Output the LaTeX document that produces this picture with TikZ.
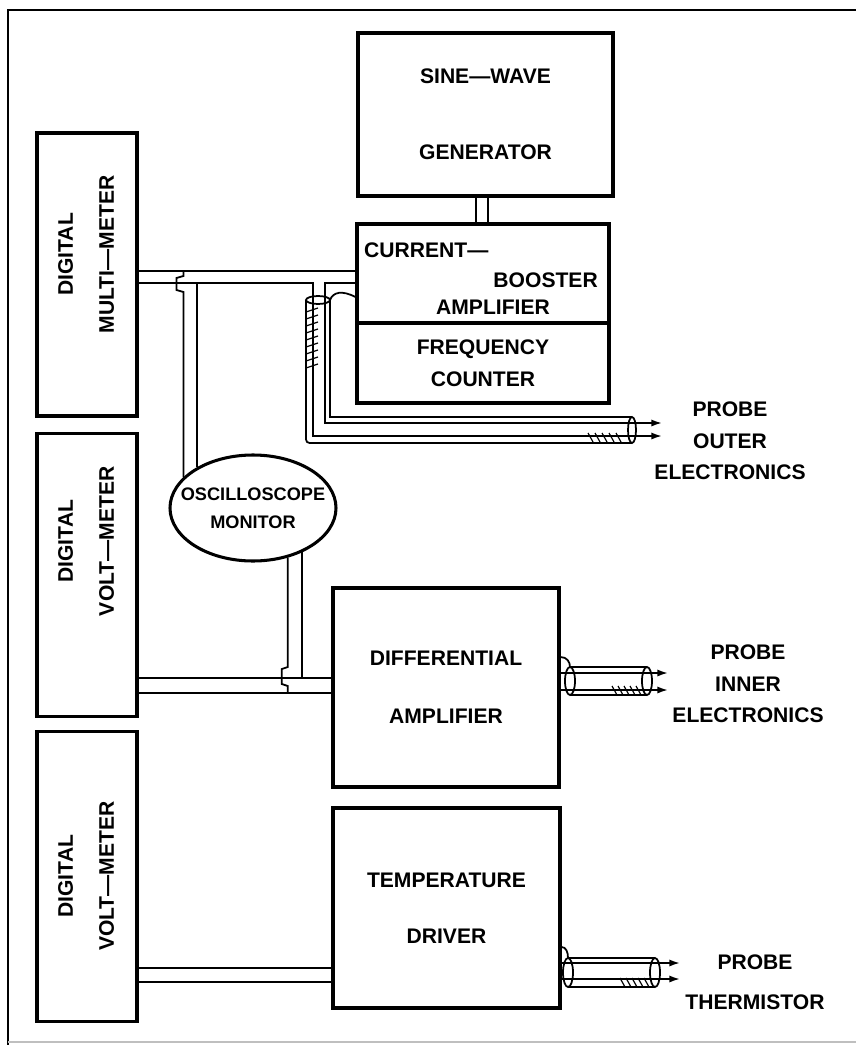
\documentclass[tikz,border=0pt]{standalone}
\usepackage{fontspec}
\setmainfont{Liberation Sans}
\usepackage{graphicx}
\usetikzlibrary{positioning,shapes.geometric,arrows.meta}
\newcommand{\blockfont}{\fontsize{18}{27}\selectfont\bfseries}
\tikzset{
  block/.style={draw,line width=2.6pt,inner sep=0pt,align=center,font=\blockfont},
  meter/.style={block,minimum width=3cm,minimum height=8.49cm},
  wire/.style={line width=1.5pt},
  hatch/.style={line width=1pt},
  probe/.style={align=center,font=\blockfont,inner sep=0pt},
}

\begin{document}
\begin{tikzpicture}[x=0.03cm,y=-0.03cm,>={Latex[length=9pt,width=6pt]}]
        \useasboundingbox (0,0) rectangle (856,1045);
        \draw[line width=1.6pt] (8,1045) -- (8,10) -- (856,10);
        \draw[gray!50,line width=1pt] (8,1042) -- (856,1042);
        % meters on the left
        \node[meter] (dmm) at (87,274.5) {\rotatebox{90}{\hspace*{1.2cm}\begin{tabular}{@{}c@{}}DIGITAL\\[0.28cm]MULTI—METER\end{tabular}}};
        \node[meter,below=0.42cm of dmm] (dvm1) {\rotatebox{90}{\hspace*{2cm}\begin{tabular}{@{}c@{}}DIGITAL\\[0.28cm]VOLT—METER\end{tabular}}};
        \node[meter,minimum height=8.7cm,below=0.36cm of dvm1] (dvm2) {\rotatebox{90}{\begin{tabular}{@{}c@{}}DIGITAL\\[0.28cm]VOLT—METER\end{tabular}}};
        % blocks
        \node[block,minimum width=7.65cm,minimum height=4.89cm] (gen) at (485.5,114.5) {SINE—WAVE\\[1.33cm]GENERATOR};
        \node[block,minimum width=7.56cm,minimum height=2.97cm] (boost) at (483,273.5) {};
        \node[block,minimum width=7.56cm,minimum height=2.4cm] (count) at (483,363) {FREQUENCY\\COUNTER};
        \node[probe,anchor=west] (boostA) at (364,250) {CURRENT—};
        \node[probe,anchor=east] (boostB) at (598,280) {BOOSTER};
        \node[probe] (boostC) at (493,307) {AMPLIFIER};
        \node[draw,ellipse,line width=2.6pt,inner sep=0pt,minimum width=4.98cm,minimum height=3.18cm,
              label={[probe,font=\fontsize{15.5}{24}\selectfont\bfseries]center:{OSCILLOSCOPE\\MONITOR}}] (osc) at (253,508) {};
        \node[block,minimum width=6.78cm,minimum height=5.97cm] (diff) at (446,687.5) {DIFFERENTIAL\\[0.79cm]AMPLIFIER};
        \node[block,minimum width=6.81cm,minimum height=6cm] (drv) at (446.5,908) {TEMPERATURE\\[0.73cm]DRIVER};
        % probe labels
        \node[probe] (outer) at (730,441) {PROBE\\OUTER\\ELECTRONICS};
        \node[probe] (inner) at (748,684) {PROBE\\INNER\\ELECTRONICS};
        \node[probe] (therm) at (755,982) {PROBE\\[0.25cm]THERMISTOR};
        % generator to booster
        \draw[wire] (476,0 |- gen.south) -- (476,0 |- boost.north);
        \draw[wire] (488,0 |- gen.south) -- (488,0 |- boost.north);
        % multimeter and outer probe cable
        \draw[wire] (dmm.east |- 0,271) -- (boost.west |- 0,271);
        \draw[wire,->] (dmm.east |- 0,283) -- (313,283) -- (313,436) -- (662,436);
        \draw[wire,->] (boost.west |- 0,283) -- (325,283) -- (325,423) -- (662,423);
        \draw[wire,rounded corners=3pt] (306,300) -- (306,443) -- (632,443);
        \draw[wire] (330,300) -- (330,417) -- (632,417);
        \draw[wire] (318,300) ellipse [x radius=12,y radius=4];
        \draw[wire] (632,430) ellipse [x radius=4,y radius=13];
        \draw[wire] (boost.west |- 0,297) .. controls (342,290) and (333,292) .. (330,300);
        \foreach \y in {308,315,...,364} \draw[hatch] (306,\y+4) -- (318,\y);
        \foreach \x in {588,595,...,616} \draw[hatch] (\x,433) -- (\x+5,442);
        % oscilloscope taps
        \draw[wire] (osc.156 |- 0,271) -- ++(0,5) -- ++(-7,2) -- ++(0,12) -- ++(7,2) -- (osc.156);
        \draw[wire] (osc.144 |- 0,283) -- (osc.144);
        \draw[wire] (osc.305) -- (osc.305 |- 0,667) -- ++(-6,2) -- ++(0,15) -- ++(6,2) -- (osc.305 |- 0,693);
        \draw[wire] (osc.318) -- (osc.318 |- 0,678);
        % voltmeters to amplifier and driver
        \draw[wire] (dvm1.east |- 0,678) -- (diff.west |- 0,678);
        \draw[wire] (dvm1.east |- 0,693) -- (diff.west |- 0,693);
        \draw[wire] (dvm2.east |- 0,968) -- (drv.west |- 0,968);
        \draw[wire] (dvm2.east |- 0,982) -- (drv.west |- 0,982);
        % inner probe cable
        \draw[wire,->] (diff.east |- 0,673) -- (668,673);
        \draw[wire,->] (diff.east |- 0,690) -- (668,690);
        \draw[wire] (570,667) -- (647,667) (570,695) -- (647,695);
        \draw[wire] (570,681) ellipse [x radius=5,y radius=14] (647,681) ellipse [x radius=5,y radius=14];
        \draw[wire] (diff.east |- 0,657) .. controls (567,657) and (570,662) .. (570,667);
        \foreach \x in {612,618,...,636} \draw[hatch] (\x,686) -- (\x+5,695);
        % thermistor cable
        \draw[wire,->] (drv.east |- 0,963) -- (680,963);
        \draw[wire,->] (drv.east |- 0,979) -- (680,979);
        \draw[wire] (568,958) -- (655,958) (568,987) -- (655,987);
        \draw[wire] (568,972.5) ellipse [x radius=5,y radius=14.5] (655,972.5) ellipse [x radius=5,y radius=14.5];
        \draw[wire] (drv.east |- 0,947) .. controls (566,947) and (568,952) .. (568,958);
        \foreach \x in {620,626,...,644} \draw[hatch] (\x,978) -- (\x+5,987);
    \end{tikzpicture}
\end{document}
